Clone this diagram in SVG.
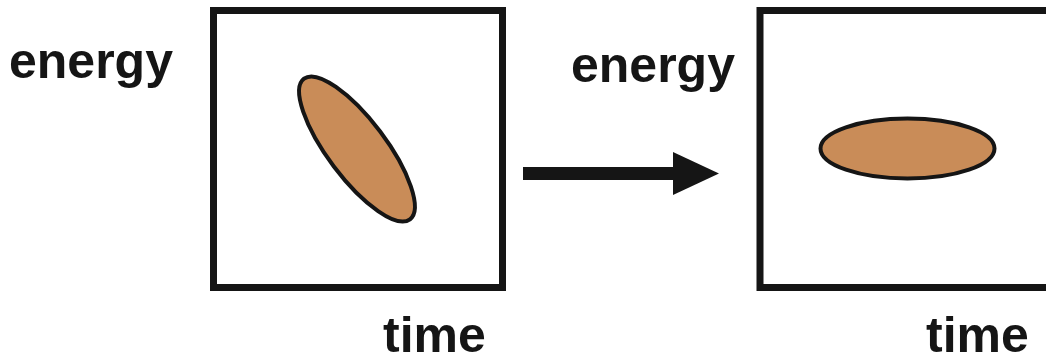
<svg xmlns="http://www.w3.org/2000/svg" width="1046" height="361" viewBox="0 0 1046 361">
<style>
.box{fill:#fff;stroke:#151515;stroke-width:7}
.blob{fill:#c98c58;stroke:#151515;stroke-width:4}
.lbl{font-family:"Liberation Sans",Arial,sans-serif;font-weight:bold;font-size:50px;fill:#151515}
</style>
<rect width="1046" height="361" fill="#fff"/>
<g id="left-panel">
<rect class="box" x="213.5" y="10.5" width="289" height="277"/>
<ellipse class="blob" cx="357" cy="149" rx="88" ry="29" transform="rotate(53 357 149)"/>
<text class="lbl" x="9" y="78">energy</text>
<text class="lbl" x="383" y="352">time</text>
</g>
<g id="right-panel">
<rect class="box" x="760" y="10.5" width="300" height="277"/>
<ellipse class="blob" cx="907.5" cy="148.5" rx="87" ry="30"/>
<text class="lbl" x="571" y="82">energy</text>
<text class="lbl" x="926" y="352">time</text>
</g>
<g id="connectors">
<line x1="523" y1="173.5" x2="676" y2="173.5" stroke="#151515" stroke-width="13"/>
<polygon points="673,152 719,173.5 673,195" fill="#151515"/>
</g>
</svg>
